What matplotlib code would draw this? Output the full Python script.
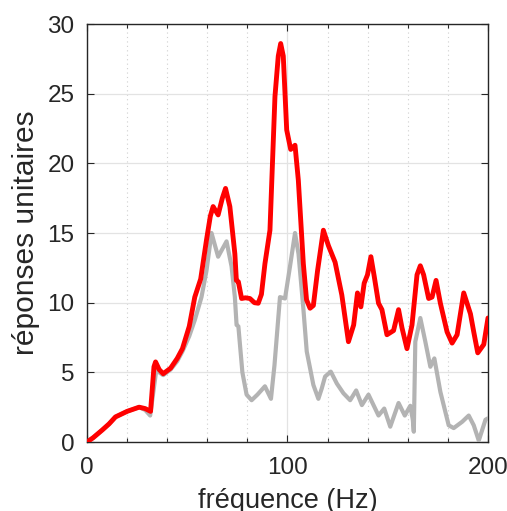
import matplotlib
matplotlib.use("Agg")
import matplotlib.pyplot as plt
from matplotlib.ticker import MultipleLocator

plt.rcParams['font.family'] = ['Liberation Sans', 'DejaVu Sans']

# red curve (frequency Hz, response)
red_f = [0, 3, 7.6, 11, 14.2, 20, 26, 29, 31.7, 33.4, 34.2, 36, 38, 41.7, 45, 47.6, 51,
         53.75, 56.7, 59.6, 61.5, 62.9, 65.4, 67.5, 69.1, 71.25, 73.75, 74.5, 75.5, 77.1,
         79, 81.25, 83.5, 85.4, 87, 88.75, 91.25, 93.75, 95.4, 96.6, 97.9, 99.6, 101.6,
         103.75, 105.4, 107.9, 109.5, 111.25, 112.9, 115, 117.9, 120.4, 123.75, 127.1,
         130.4, 133, 134.9, 136.6, 138.25, 139.9, 141.6, 143.25, 145.4, 147.1, 149.6,
         152.9, 155.4, 157.1, 159.6, 162.1, 164.6, 166.25, 167.9, 170.4, 172.1, 174.1,
         176.25, 179.6, 182.1, 184.6, 187.9, 191.25, 192.9, 194.9, 197.9, 200]
red_v = [0, 0.3, 0.86, 1.3, 1.8, 2.2, 2.5, 2.4, 2.2, 5.4, 5.75, 5.2, 4.9, 5.3, 6.0, 6.7, 8.3,
         10.4, 11.7, 14.5, 16.2, 16.9, 16.3, 17.5, 18.2, 16.9, 13.5, 11.6, 11.5, 10.3,
         10.35, 10.3, 10.0, 9.96, 10.6, 12.8, 15.2, 24.8, 27.7, 28.6, 27.7, 22.4, 21.0,
         21.3, 18.8, 12.8, 10.2, 9.6, 9.8, 12.3, 15.2, 14.1, 12.9, 10.55,
         7.2, 8.4, 10.7, 9.7, 11.4, 12.0, 13.3, 11.9, 9.96, 9.5, 7.7,
         8.0, 9.5, 8.2, 6.7, 8.4, 12.0, 12.65, 12.0, 10.3, 10.4, 11.6,
         9.96, 7.9, 7.1, 7.7, 10.7, 9.2, 7.9, 6.4, 7.0, 8.9]

# gray curve (frequency Hz, response)
gray_f = [0, 3, 7.6, 11, 14.2, 20, 26, 29, 31.5, 33, 34.5, 36, 38, 41.7, 45, 47.6, 51,
          53.75, 57.1, 59.6, 62.1, 65.4, 69.6, 72.1, 73.75, 74.6, 75.5, 77.5, 79.6, 82.1,
          85, 88.75, 91.75, 93.5, 96.25, 98.75, 101.25, 103.75, 105.5, 107.9, 109.6,
          112.9, 115.4, 117.1, 118.75, 121.6, 124.6, 127.9, 131.25, 134.25, 137.1, 140.4,
          142.9, 145.4, 148.25, 151.25, 155.4, 158.5, 161.25, 162.5, 163, 163.75, 166.25,
          168.75, 171.25, 173.25, 176.25, 180.4, 182.9, 187.1, 190.4, 192.9, 195.4,
          198.75, 200]
gray_v = [0, 0.3, 0.86, 1.3, 1.8, 2.2, 2.5, 2.3, 1.9, 3.5, 5.1, 5.0, 4.8, 5.2, 5.8, 6.5, 7.6,
          8.75, 10.4, 12.3, 15.0, 13.3, 14.4, 12.6, 10.4, 8.4, 8.3, 5.0, 3.4, 3.0,
          3.4, 4.0, 3.1, 5.5, 10.4, 10.3, 12.6, 15.0, 13.5, 9.6, 6.5,
          4.1, 3.1, 3.85, 4.7, 5.05, 4.2, 3.5, 3.0, 3.7, 2.65, 3.4,
          2.65, 1.9, 2.4, 1.1, 2.8, 1.9, 2.6, 1.6, 0.74, 7.2, 8.9,
          7.2, 5.4, 6.0, 3.6, 1.2, 1.0, 1.45, 1.9, 1.2, 0.1,
          1.6, 1.7]

x_ticks = [0, 100, 200]
y_ticks = [0, 5, 10, 15, 20, 25, 30]

fig = plt.figure(figsize=(5.07, 5.11), dpi=100)
ax = fig.add_axes([0.1716, 0.135, 0.7909, 0.818])

ax.plot(gray_f, gray_v, color='#b3b3b3', lw=3.0, solid_joinstyle='round',
        solid_capstyle='round', zorder=3)
ax.plot(red_f, red_v, color='#ff0000', lw=3.5, solid_joinstyle='round',
        solid_capstyle='round', zorder=4)

ax.set_xlim(0, 200)
ax.set_ylim(0, 30)
ax.set_xticks(x_ticks)
ax.set_yticks(y_ticks)
ax.xaxis.set_minor_locator(MultipleLocator(20))

ax.grid(True, which='major', color='#e3e3e3', lw=0.9, ls='-')
ax.grid(True, which='minor', axis='x', color='#cfcfcf', lw=0.8, ls=(0, (1, 3)))
ax.set_axisbelow(True)

dark = '#262626'
for s in ax.spines.values():
    s.set_color(dark)
    s.set_linewidth(1.0)
ax.tick_params(which='both', direction='in', top=True, right=True, colors=dark,
               labelsize=17.5, length=5, width=0.8)
ax.tick_params(axis='y', pad=9)
ax.tick_params(axis='x', pad=11)
ax.tick_params(which='minor', length=3)

ax.set_xlabel('fréquence (Hz)', fontsize=19.5, color=dark, labelpad=6)
ax.set_ylabel('réponses unitaires', fontsize=21.5, color=dark, labelpad=5)

fig.savefig('out.png', dpi=100)
